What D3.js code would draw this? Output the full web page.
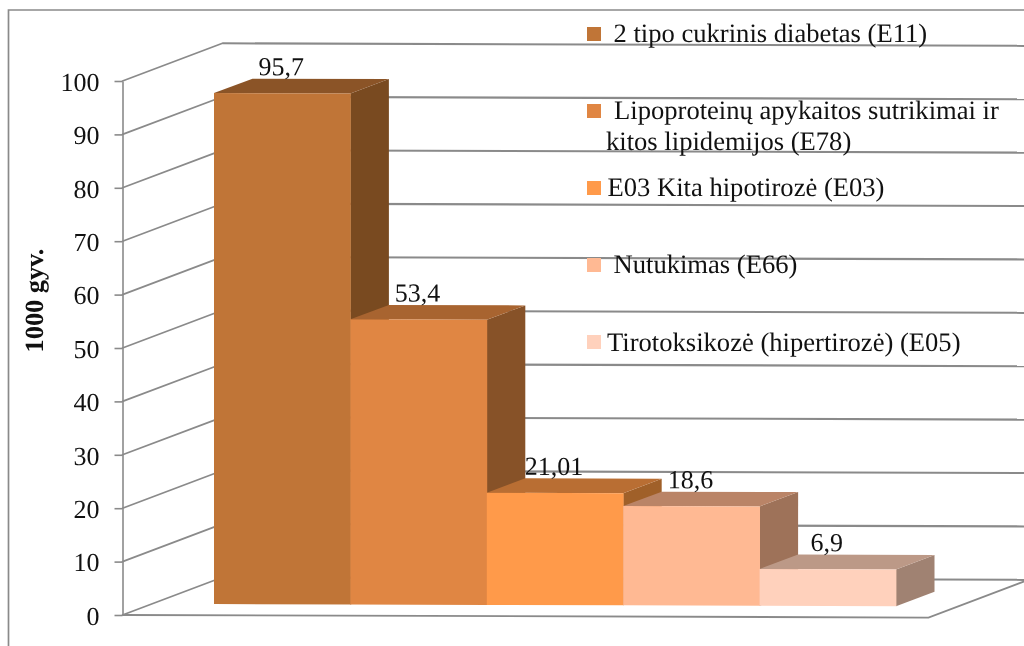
<!DOCTYPE html>
<html lang="lt"><head><meta charset="utf-8">
<script src="https://cdn.jsdelivr.net/npm/d3@7/dist/d3.min.js"></script>
<style>html,body{margin:0;padding:0;background:#fff}svg{display:block;filter:blur(0.35px)}text{font-family:"Liberation Serif",serif;fill:#111;text-rendering:geometricPrecision}</style>
</head><body><svg id="c" width="1024" height="646"></svg>
<script>
const categories = ["2 tipo cukrinis diabetas (E11)","Lipoproteinų apykaitos sutrikimai ir kitos lipidemijos (E78)","E03 Kita hipotirozė (E03)","Nutukimas (E66)","Tirotoksikozė (hipertirozė) (E05)"];
const values = [95.7,53.4,21.01,18.6,6.9];
const valueLabels = ["95,7","53,4","21,01","18,6","6,9"];
const yTicks = [0,10,20,30,40,50,60,70,80,90,100];
const frontColors = ["#c07537","#e08643","#ff9a4a","#ffb993","#ffd1bc"];
const topColors = ["#8b5427","#a86430","#b96e33","#ba8467","#bc9987"];
const sideColors = ["#794a20","#875228","#a06029","#9e7259","#a08272"];
const yTitle = "1000 gyv.";

const grid = "#8a8a8a";
const svg = d3.select("#c");
// outer frame
svg.append("path").attr("d","M8.5,650V10H1030").attr("fill","none").attr("stroke",grid).attr("stroke-width",1.7);

const wallX = 122.5, depthX = 100, depthY = 38, wallW = 806;
const y = d3.scaleLinear().domain([0,100]).range([615,81]);
const x = d3.scaleBand().domain(d3.range(categories.length)).range([214,896]).padding(0);
const barDX = 38.5, barDY = 14.5, barLift = 11.2;

// slight shear of the whole 3D plot, as in the picture
const plot = svg.append("g").attr("transform",`translate(${wallX},0) skewY(0.18) translate(${-wallX},0)`);

// side wall lines and back wall gridlines
const gl = plot.append("g").attr("fill","none").attr("stroke",grid);
gl.selectAll("path.side").data(yTicks).join("path").attr("class","side")
  .attr("stroke-width",1.7).attr("stroke-linecap","round")
  .attr("d",t=>`M${wallX},${y(t)}L${wallX+depthX},${y(t)-depthY}`);
gl.selectAll("path.back").data(yTicks).join("path").attr("class","back")
  .attr("stroke-width",2.1)
  .attr("d",t=>`M${wallX+depthX},${y(t)-depthY}H${wallX+depthX+wallW}`);
// floor
gl.append("path").attr("stroke-width",1.8)
  .attr("d",`M${wallX},${y(0)}H${wallX+wallW}L${wallX+wallW+depthX},${y(0)-depthY}`);

// bars
const bars = plot.append("g").selectAll("g").data(values).join("g");
const by = v => y(v)-barLift;
const x0 = (d,i)=>x(i), x1 = (d,i)=>x(i)+x.bandwidth();
bars.sort((a,b)=>b-a);
bars.append("path").attr("fill",(d,i)=>sideColors[i])
  .attr("d",(d,i)=>`M${x1(d,i)},${by(d)}L${x1(d,i)+barDX},${by(d)-barDY}V${by(0)-barDY}L${x1(d,i)},${by(0)}Z`);
bars.append("path").attr("fill",(d,i)=>topColors[i])
  .attr("d",(d,i)=>`M${x0(d,i)},${by(d)}L${x0(d,i)+barDX},${by(d)-barDY}H${x1(d,i)+barDX}L${x1(d,i)},${by(d)}Z`);
bars.append("rect").attr("fill",(d,i)=>frontColors[i])
  .attr("x",(d,i)=>x0(d,i)).attr("width",x.bandwidth()+0.4)
  .attr("y",d=>by(d)).attr("height",d=>by(0)-by(d));

// axis
const ax = svg.append("g").attr("transform",`translate(${wallX},0)`)
  .call(d3.axisLeft(y).tickValues(yTicks).tickSize(8).tickPadding(15).tickSizeOuter(0));
ax.selectAll("path,line").attr("stroke",grid).attr("stroke-width",1.6);
ax.selectAll("text").attr("font-size",26).attr("font-family","Liberation Serif").attr("fill","#111").attr("dy","0.36em");

// data labels
plot.append("g").selectAll("text").data(values).join("text")
  .attr("x",(d,i)=>x(i)+x.bandwidth()/2-1).attr("y",d=>by(d)-18)
  .attr("text-anchor","middle").attr("font-size",26).text((d,i)=>valueLabels[i]);

// y title
svg.append("text").attr("transform","translate(43,300.5) rotate(-90)").attr("text-anchor","middle")
  .attr("font-size",26.3).attr("font-weight","bold").text(yTitle);

// legend
const legendBoxY = [27,104,181,258,335];
const legendLines = [
  [[categories[0],613.5,42]],
  [["Lipoproteinų apykaitos sutrikimai ir",614,119],["kitos lipidemijos (E78)",606,150]],
  [[categories[2],607.5,196]],
  [[categories[3],613.5,273]],
  [[categories[4],607,351]]
];
const leg = svg.append("g");
leg.selectAll("rect").data(categories).join("rect")
  .attr("x",587).attr("y",(d,i)=>legendBoxY[i]).attr("width",14).attr("height",14)
  .attr("fill",(d,i)=>frontColors[i]);
leg.selectAll("text").data(legendLines.flat()).join("text")
  .attr("x",d=>d[1]).attr("y",d=>d[2]).attr("font-size",26.6).text(d=>d[0]);
</script></body></html>
